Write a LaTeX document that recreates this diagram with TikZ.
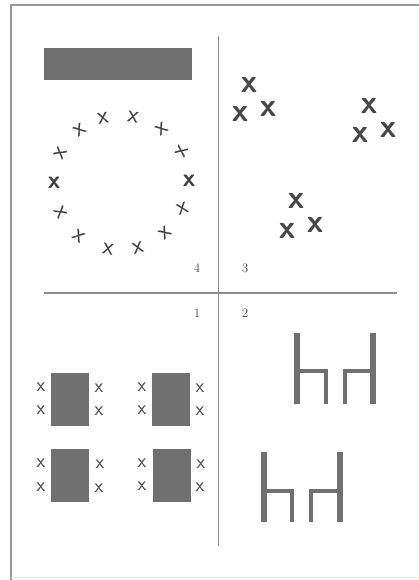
\documentclass[tikz,border=0pt]{standalone}
\usepackage{pgf, tikz}
\pgfdeclarelayer{edgelayer}
\pgfdeclarelayer{nodelayer}
\pgfsetlayers{edgelayer,nodelayer,main}
\definecolor{inkgrey}{gray}{0.44}
\definecolor{ruleline}{gray}{0.55}
\definecolor{frameline}{gray}{0.6}
\tikzstyle{frame}=[draw=frameline, line width=1.4pt]
\tikzstyle{axis}=[draw=ruleline, line width=1.8pt]
\tikzstyle{block}=[rectangle, fill=inkgrey, draw=none, inner sep=0pt, minimum width=38pt, minimum height=53pt]
\tikzstyle{banner}=[rectangle, fill=inkgrey, draw=none, inner sep=0pt, minimum width=148pt, minimum height=32pt]
\tikzstyle{bigcross}=[inner sep=0pt, text=black!72, font=\fontsize{33}{33}\selectfont\sffamily\bfseries]
\tikzstyle{ringcross}=[inner sep=0pt, text=black!75, font=\fontsize{25}{25}\selectfont\sffamily]
\tikzstyle{smallcross}=[inner sep=0pt, text=black!70, font=\fontsize{20}{20}\selectfont\sffamily]
\tikzstyle{panellabel}=[inner sep=0pt, text=black!72, font=\fontsize{13}{13}\selectfont]
\tikzstyle{post}=[draw=inkgrey, line width=6.5pt]
\tikzstyle{rail}=[draw=inkgrey, line width=3.5pt]

\begin{document}
\begin{tikzpicture}[x=1pt, y=-1pt]
	\useasboundingbox (0, 0) rectangle (419, 580);
	\begin{pgfonlayer}{edgelayer}
		\draw [style=frame] (11, 580) to (11, 5) to (419, 5);
		\draw [draw=frameline!25, line width=0.8pt] (11, 577) to (419, 577);
		\draw [style=axis] (218.5, 36) to (218.5, 546);
		\draw [style=axis] (44, 293) to (397, 293);
		% upper chair pair
		\draw [style=rail] (297, 371) to (326, 371) to (326, 404);
		\draw [style=rail] (373, 371) to (345, 371) to (345, 404);
		\draw [style=post] (297, 333) to (297, 404);
		\draw [style=post] (373, 333) to (373, 404);
		% lower chair pair
		\draw [style=rail] (264, 491) to (292, 491) to (292, 522);
		\draw [style=rail] (340, 491) to (311, 491) to (311, 522);
		\draw [style=post] (264, 452) to (264, 522);
		\draw [style=post] (340, 452) to (340, 522);
	\end{pgfonlayer}
	\begin{pgfonlayer}{nodelayer}
		\node [style=banner] (banner) at (118, 64) {};
		% ring
		\node [style=ringcross, rotate=10] (r1) at (103, 118) {x};
		\node [style=ringcross, rotate=-10] (r2) at (133, 117) {x};
		\node [style=ringcross, rotate=35] (r3) at (162, 129) {x};
		\node [style=ringcross, rotate=65] (r4) at (182, 151) {x};
		\node [style=ringcross, font=\fontsize{25}{25}\selectfont\sffamily\bfseries] (r5) at (189, 181) {x};
		\node [style=ringcross, rotate=20] (r6) at (183, 209) {x};
		\node [style=ringcross, rotate=40] (r7) at (165, 233) {x};
		\node [style=ringcross, rotate=15] (r8) at (138, 248) {x};
		\node [style=ringcross, rotate=-10] (r9) at (108, 249) {x};
		\node [style=ringcross, rotate=-35] (r10) at (79, 236) {x};
		\node [style=ringcross, rotate=-60] (r11) at (61, 212) {x};
		\node [style=ringcross, font=\fontsize{25}{25}\selectfont\sffamily\bfseries] (r12) at (54, 183) {x};
		\node [style=ringcross, rotate=60] (r13) at (61, 153) {x};
		\node [style=ringcross, rotate=35] (r14) at (80, 130) {x};
		% triples
		\node [style=bigcross] (a1) at (249, 85) {x};
		\node [style=bigcross] (a2) at (240, 114) {x};
		\node [style=bigcross] (a3) at (268, 109) {x};
		\node [style=bigcross] (b1) at (369, 106) {x};
		\node [style=bigcross] (b2) at (360, 135) {x};
		\node [style=bigcross] (b3) at (388, 130) {x};
		\node [style=bigcross] (c1) at (296, 201) {x};
		\node [style=bigcross] (c2) at (287, 231) {x};
		\node [style=bigcross] (c3) at (315, 225) {x};
		% panel numbers
		\node [style=panellabel] (n4) at (197, 268) {4};
		\node [style=panellabel] (n3) at (245, 268) {3};
		\node [style=panellabel] (n1) at (197, 313) {1};
		\node [style=panellabel] (n2) at (245, 313) {2};
		% blocks
		\node [style=block] (d1) at (70, 399.5) {};
		\node [style=block] (d2) at (171, 399.5) {};
		\node [style=block] (d3) at (70, 475.5) {};
		\node [style=block] (d4) at (171.5, 475.5) {};
		\node [style=smallcross] (s1) at (41, 387) {x};
		\node [style=smallcross] (s2) at (41, 410) {x};
		\node [style=smallcross] (s3) at (99, 388) {x};
		\node [style=smallcross] (s4) at (99, 411) {x};
		\node [style=smallcross] (s5) at (142, 387) {x};
		\node [style=smallcross] (s6) at (142, 410) {x};
		\node [style=smallcross] (s7) at (200, 388) {x};
		\node [style=smallcross] (s8) at (200, 411) {x};
		\node [style=smallcross] (s9) at (41, 463) {x};
		\node [style=smallcross] (s10) at (41, 487) {x};
		\node [style=smallcross] (s11) at (100, 464) {x};
		\node [style=smallcross] (s12) at (99, 488) {x};
		\node [style=smallcross] (s13) at (142, 463) {x};
		\node [style=smallcross] (s14) at (142, 486) {x};
		\node [style=smallcross] (s15) at (201, 464) {x};
		\node [style=smallcross] (s16) at (200, 487) {x};
	\end{pgfonlayer}
\end{tikzpicture}
\end{document}
